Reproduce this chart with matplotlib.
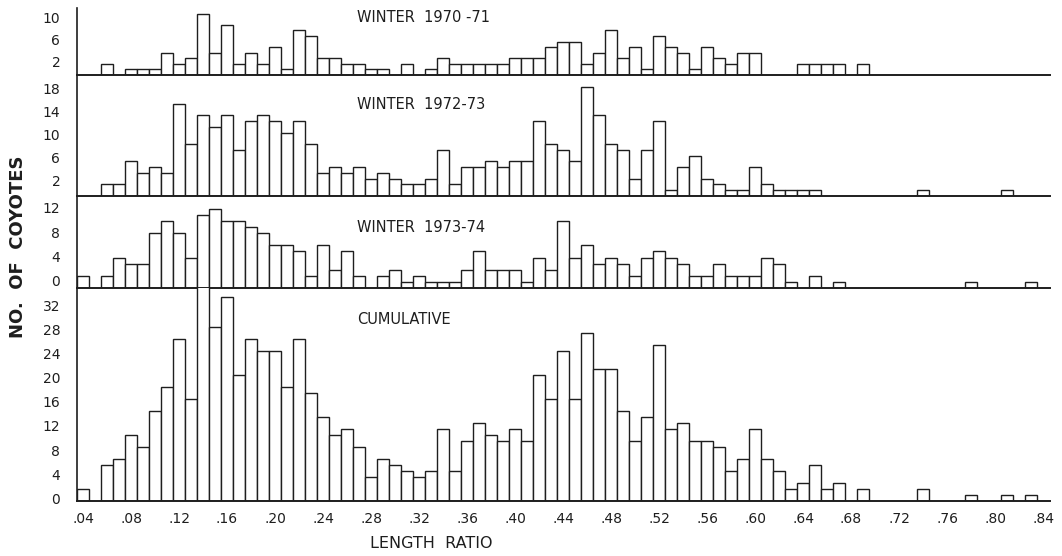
import numpy as np
import matplotlib.pyplot as plt
import matplotlib.transforms as mtransforms

# length-ratio classes, .04 to .83 in steps of .01
ratio = np.round(np.arange(0.04, 0.835, 0.01), 2)

# counts, one value per class
w7071 = [0, 0, 2, 0, 1, 1, 1, 4, 2, 3,
         11, 4, 9, 2, 4, 2, 5, 1, 8, 7,
         3, 3, 2, 2, 1, 1, 0, 2, 0, 1,
         3, 2, 2, 2, 2, 2, 3, 3, 3, 5,
         6, 6, 2, 4, 8, 3, 5, 1, 7, 5,
         4, 1, 5, 3, 2, 4, 4, 0, 0, 0,
         2, 2, 2, 2, 0, 2, 0, 0, 0, 0,
         0, 0, 0, 0, 0, 0, 0, 0, 0, 0]
w7273 = [0, 0, 2, 2, 6, 4, 5, 4, 16, 9,
         14, 12, 14, 8, 13, 14, 13, 11, 13, 9,
         4, 5, 4, 5, 3, 4, 3, 2, 2, 3,
         8, 2, 5, 5, 6, 5, 6, 6, 13, 9,
         8, 6, 19, 14, 9, 8, 3, 8, 13, 1,
         5, 7, 3, 2, 1, 1, 5, 2, 1, 1,
         1, 1, 0, 0, 0, 0, 0, 0, 0, 0,
         1, 0, 0, 0, 0, 0, 0, 1, 0, 0]
w7374 = [2, 0, 2, 5, 4, 4, 9, 11, 9, 5,
         12, 13, 11, 11, 10, 9, 7, 7, 6, 2,
         7, 3, 6, 2, 0, 2, 3, 1, 2, 1,
         1, 1, 3, 6, 3, 3, 3, 1, 5, 3,
         11, 5, 7, 4, 5, 4, 2, 5, 6, 5,
         4, 2, 2, 4, 2, 2, 2, 5, 4, 1,
         0, 2, 0, 1, 0, 0, 0, 0, 0, 0,
         0, 0, 0, 0, 1, 0, 0, 0, 0, 1]
cumul = [2, 0, 6, 7, 11, 9, 15, 19, 27, 17,
         36, 29, 34, 21, 27, 25, 25, 19, 27, 18,
         14, 11, 12, 9, 4, 7, 6, 5, 4, 5,
         12, 5, 10, 13, 11, 10, 12, 10, 21, 17,
         25, 17, 28, 22, 22, 15, 10, 14, 26, 12,
         13, 10, 10, 9, 5, 7, 12, 7, 5, 2,
         3, 6, 2, 3, 0, 2, 0, 0, 0, 0,
         2, 0, 0, 0, 1, 0, 0, 1, 0, 1]

titles = ["WINTER  1970 -71", "WINTER  1972-73", "WINTER  1973-74", "CUMULATIVE"]
yticks = [[2, 6, 10], [2, 6, 10, 14, 18], [0, 4, 8, 12], list(range(0, 33, 4))]
xticks = [0.04, 0.08, 0.12, 0.16, 0.20, 0.24, 0.28, 0.32, 0.36, 0.40, 0.44,
          0.48, 0.52, 0.56, 0.60, 0.64, 0.68, 0.72, 0.76, 0.80, 0.84]

W, H = 1062, 556
ink = "#1e1e1e"
plt.rcParams["font.family"] = "DejaVu Sans"

fig = plt.figure(figsize=(W / 100, H / 100), dpi=100)

# panel frames in pixels: (top, bottom, ymax, label shift)
frames = [(8, 75, 12.0, 2), (75, 196, 21.0, 4), (196, 288, 15.1, 7), (288, 501, 35.5, 3)]
left, right = 77, 1050
xlo = 0.035
xhi = xlo + (right - left) / 1200

for i, (counts, (top, bot, ymax, dy)) in enumerate(zip([w7071, w7273, w7374, cumul], frames)):
    ax = fig.add_axes([left / W, 1 - bot / H, (right - left) / W, (bot - top) / H])
    c = np.array(counts)
    nz = c > 0
    ax.bar(ratio[nz], c[nz], width=0.01, facecolor="white", edgecolor=ink, linewidth=1.0)
    ax.set_xlim(xlo, xhi)
    ax.set_ylim(0, ymax)
    for s in ["top", "right"]:
        ax.spines[s].set_visible(False)
    ax.spines["bottom"].set_linewidth(1.4)
    ax.spines["left"].set_linewidth(1.2)
    ax.spines["bottom"].set_color(ink)
    ax.spines["left"].set_color(ink)
    ax.set_yticks(yticks[i])
    ax.set_yticklabels([str(t) for t in yticks[i]])
    ax.tick_params(axis="y", length=0, pad=12, labelsize=10, labelcolor=ink)
    off = mtransforms.ScaledTranslation(0, dy / 100, fig.dpi_scale_trans)
    for lab in ax.get_yticklabels():
        lab.set_transform(lab.get_transform() + off)
    if i < 3:
        ax.set_xticks([])
    else:
        ax.set_xticks(xticks)
        ax.set_xticklabels(["." + f"{t:.2f}"[2:] for t in xticks])
        ax.tick_params(axis="x", length=0, pad=8, labelsize=10, labelcolor=ink)
    ax.patch.set_alpha(0)

# panel titles
for t, y in zip(titles, [17, 105, 227, 320]):
    fig.text(357 / W, 1 - y / H, t, fontsize=10.5, color=ink, va="center", ha="left")

fig.text(18 / W, 1 - 247 / H, "NO.  OF  COYOTES", rotation=90, fontsize=13,
         fontweight="bold", color=ink, va="center", ha="center")
fig.text(431 / W, 1 - 543 / H, "LENGTH  RATIO", fontsize=11.5, color=ink,
         va="center", ha="center")

fig.savefig("out.png", dpi=100, facecolor="white")
